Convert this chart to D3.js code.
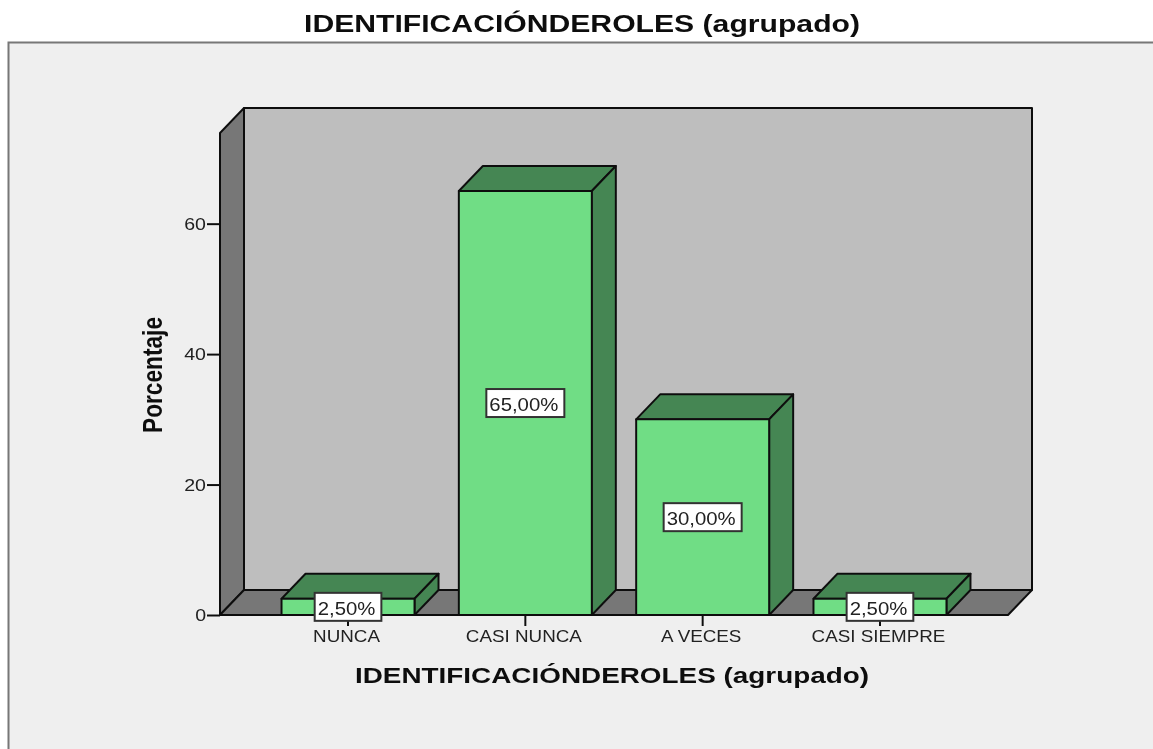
<!DOCTYPE html>
<html><head><meta charset="utf-8">
<script src="https://cdn.jsdelivr.net/npm/d3@7/dist/d3.min.js"></script>
<style>html,body{margin:0;padding:0;background:#fff;overflow:hidden}svg{display:block}text{font-family:"Liberation Sans",Arial,sans-serif}</style>
</head><body><svg id="c" width="1153" height="749"></svg>
<script>
const categories = ["NUNCA","CASI NUNCA","A VECES","CASI SIEMPRE"];
const values = [2.5,65,30,2.5];
const valueLabels = ["2,50%","65,00%","30,00%","2,50%"];
const yTicks = [0,20,40,60];
const chartTitle = "IDENTIFICACIÓNDEROLES (agrupado)";
const yTitle = "Porcentaje";

const root = d3.select("#c");
root.append("defs").append("filter").attr("id","soft").attr("filterUnits","userSpaceOnUse")
  .attr("x",0).attr("y",0).attr("width",1153).attr("height",749)
  .append("feGaussianBlur").attr("stdDeviation",0.55);
const svg = root.append("g").attr("filter","url(#soft)");

const DX = 24, DY = -25, INK = "#111", SW = 2;
const x = d3.scaleBand().domain(categories).range([220,1008]).paddingInner(0.25).paddingOuter(0.347);
const y = d3.scaleLinear().domain([0,73.9]).range([615,133]);
const path = p => "M" + p.map(q => q.join(",")).join("L") + "Z";
const stretch = (sel,f) => sel.each(function(){
  d3.select(this).attr("textLength",this.getComputedTextLength()*f).attr("lengthAdjust","spacingAndGlyphs");
});

svg.append("rect").attr("x",8.5).attr("y",42.5).attr("width",1200).attr("height",800)
  .attr("fill","#efefef").attr("stroke","#777").attr("stroke-width",2);

const [x0,x1] = x.range(), y0 = y(0), yT = y.range()[1];
const box = svg.append("g").attr("stroke",INK).attr("stroke-width",SW).attr("stroke-linejoin","round");
box.append("path").attr("fill","#bebebe").attr("d",path([[x0+DX,yT+DY],[x1+DX,yT+DY],[x1+DX,y0+DY],[x0+DX,y0+DY]]));
box.append("path").attr("fill","#777777").attr("d",path([[x0,yT],[x0+DX,yT+DY],[x0+DX,y0+DY],[x0,y0]]));
box.append("path").attr("fill","#777777").attr("d",path([[x0,y0],[x0+DX,y0+DY],[x1+DX,y0+DY],[x1,y0]]));

const yAxis = svg.append("g").attr("transform",`translate(${x0},0)`)
  .call(d3.axisLeft(y).tickValues(yTicks).tickSize(13).tickPadding(1));
yAxis.select(".domain").remove();
yAxis.selectAll("line").attr("stroke",INK).attr("stroke-width",SW);
yAxis.selectAll("text").attr("font-size",17).attr("fill","#222").call(stretch,1.15);

const xAxis = svg.append("g").attr("transform",`translate(0,${y0})`)
  .call(d3.axisBottom(x).tickSize(11).tickPadding(4));
xAxis.select(".domain").remove();
xAxis.selectAll("line").attr("stroke",INK).attr("stroke-width",SW);
xAxis.selectAll("text").attr("font-size",16.5).attr("fill","#222").attr("dx",-1.5).call(stretch,1.14);

const bars = svg.append("g").selectAll("g").data(categories).join("g")
  .attr("stroke",INK).attr("stroke-width",SW).attr("stroke-linejoin","round");
bars.each(function(c,i){
  const g = d3.select(this), l = x(c), r = l + x.bandwidth(), t = y(values[i]);
  g.append("path").attr("fill","#458653").attr("d",path([[l,t],[l+DX,t+DY],[r+DX,t+DY],[r,t]]));
  g.append("path").attr("fill","#458653").attr("d",path([[r,t],[r+DX,t+DY],[r+DX,y0+DY],[r,y0]]));
  g.append("path").attr("fill","#70dd85").attr("d",path([[l,t],[r,t],[r,y0],[l,y0]]));
});

const labels = svg.append("g").selectAll("g").data(categories).join("g")
  .attr("transform",(c,i)=>`translate(${x(c)+x.bandwidth()/2},${y(values[i]/2)})`);
labels.append("text").attr("text-anchor","middle").attr("x",-1.5).attr("y",8)
  .attr("font-size",18).attr("fill","#222").text((c,i)=>valueLabels[i]).call(stretch,1.13);
labels.insert("rect","text").each(function(){
  const b = this.parentNode.querySelector("text").getBBox();
  d3.select(this).attr("x",-b.width/2-4.5).attr("width",b.width+9);
}).attr("y",-14).attr("height",28).attr("fill","#fff").attr("stroke","#333").attr("stroke-width",SW);

svg.append("text").attr("x",582).attr("y",32).attr("text-anchor","middle").attr("font-size",24)
  .attr("font-weight","bold").attr("fill","#111").attr("textLength",556).attr("lengthAdjust","spacingAndGlyphs").text(chartTitle);
svg.append("text").attr("x",612).attr("y",683).attr("text-anchor","middle").attr("font-size",22.5)
  .attr("font-weight","bold").attr("fill","#111").attr("textLength",514).attr("lengthAdjust","spacingAndGlyphs").text(chartTitle);
svg.append("text").attr("transform","translate(162,375) rotate(-90)").attr("text-anchor","middle")
  .attr("font-size",28).attr("font-weight","bold").attr("fill","#111").attr("textLength",116).attr("lengthAdjust","spacingAndGlyphs").text(yTitle);
</script></body></html>
